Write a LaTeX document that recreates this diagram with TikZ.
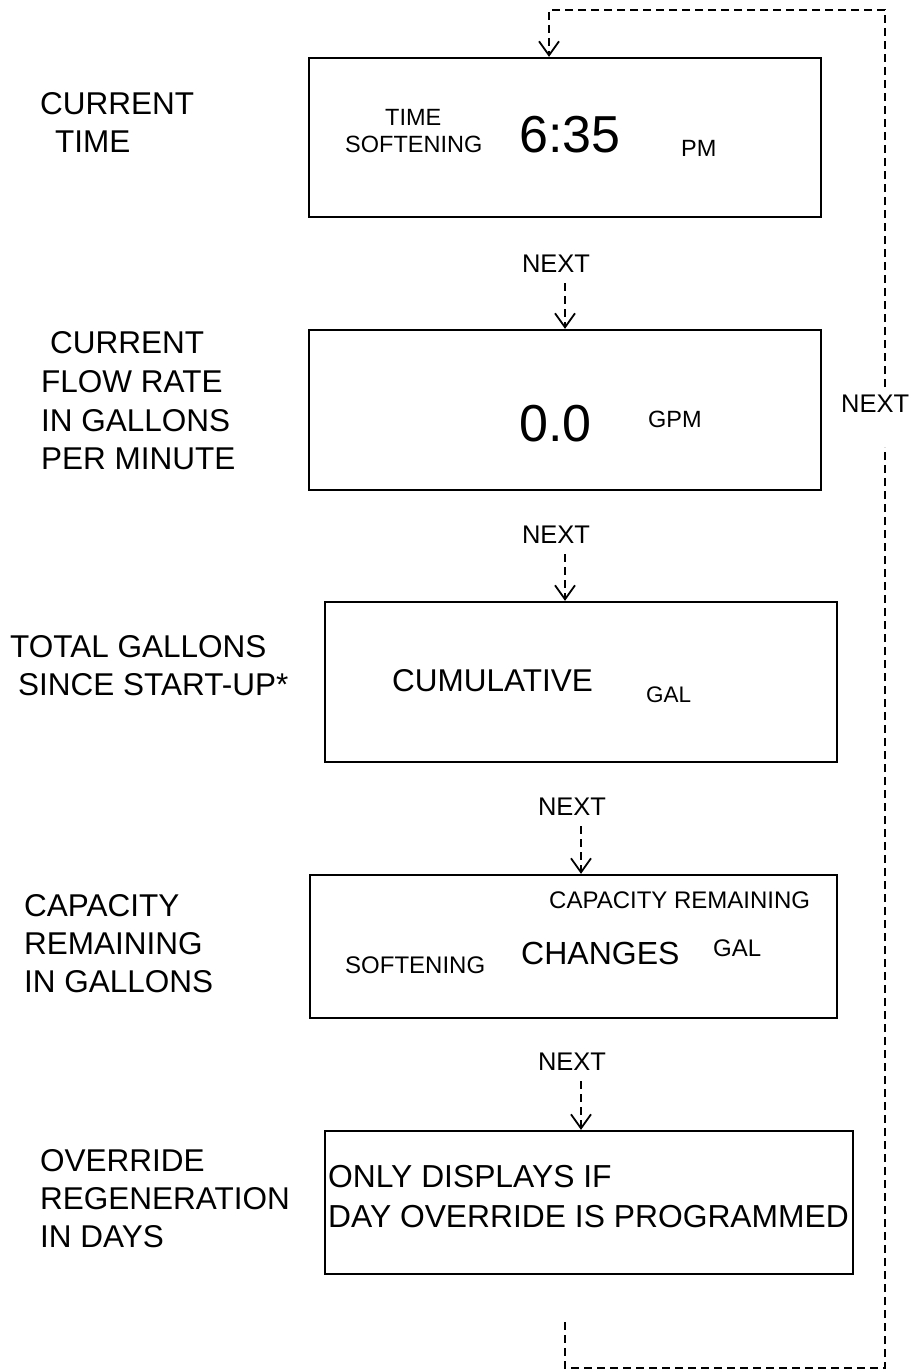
\documentclass[tikz,border=0pt]{standalone}
\usepackage{fontspec}
\setmainfont{Liberation Sans}
\usetikzlibrary{arrows.meta,calc}
\tikzset{
  box/.style={draw, line width=2.3pt, inner sep=0pt},
  lbl/.style={anchor=base west, inner sep=0pt, font=\fontsize{31.5}{37}\selectfont},
  sm/.style={anchor=base west, inner sep=0pt, font=\fontsize{23.5}{28}\selectfont},
  big/.style={anchor=base west, inner sep=0pt, font=\fontsize{52}{60}\selectfont},
  nxt/.style={anchor=base, inner sep=0pt, font=\fontsize{25.5}{30}\selectfont},
  dl/.style={line width=2.2pt, dash pattern=on 8pt off 5pt},
  tipv/.style={-{Straight Barb[length=14pt,width=20pt,line width=1.8pt]}},
}
\begin{document}
\begin{tikzpicture}[x=1pt,y=-1pt]
\useasboundingbox (0,0) rectangle (911,1370);
% boxes
\node[box, minimum width=512pt, minimum height=159pt] (b1) at (565,137.5) {};
\node[box, minimum width=512pt, minimum height=160pt] (b2) at (565,410) {};
\node[box, minimum width=512pt, minimum height=160pt] (b3) at (581,682) {};
\node[box, minimum width=527pt, minimum height=143pt] (b4) at (573.5,946.5) {};
\node[box, minimum width=528pt, minimum height=143pt] (b5) at (589,1202.5) {};
% left labels
\node[lbl] (l1a) at (40,115) {CURRENT};
\node[lbl] (l1b) at (55,153) {TIME};
\node[lbl] (l2a) at (50,353) {CURRENT};
\node[lbl] (l2b) at (41,392) {FLOW RATE};
\node[lbl] (l2c) at (41,431) {IN GALLONS};
\node[lbl] (l2d) at (41,469) {PER MINUTE};
\node[lbl] (l3a) at (10,657) {TOTAL GALLONS};
\node[lbl] (l3b) at (18,695) {SINCE START-UP*};
\node[lbl] (l4a) at (24,916) {CAPACITY};
\node[lbl] (l4b) at (24,954) {REMAINING};
\node[lbl] (l4c) at (24,992) {IN GALLONS};
\node[lbl] (l5a) at (40,1171) {OVERRIDE};
\node[lbl] (l5b) at (40,1209) {REGENERATION};
\node[lbl] (l5c) at (40,1247) {IN DAYS};
% box 1 contents
\node[sm] (t1a) at (385,125) {TIME};
\node[sm] (t1b) at (345,153) {SOFTENING};
\node[big] (t1c) at (519,153) {6:35};
\node[sm] (t1d) at (681,157) {PM};
% box 2 contents
\node[big] (t2a) at (519,441) {0.0};
\node[sm] (t2b) at (648,427) {GPM};
% box 3 contents
\node[lbl] (t3a) at (392,691) {CUMULATIVE};
\node[sm, font=\fontsize{22.5}{26}\selectfont] (t3b) at (646,702) {GAL};
% box 4 contents
\node[sm, font=\fontsize{24}{28}\selectfont] (t4a) at (549,908) {CAPACITY REMAINING};
\node[lbl, font=\fontsize{32}{38}\selectfont] (t4b) at (521,964) {CHANGES};
\node[sm, font=\fontsize{24}{28}\selectfont] (t4c) at (713,956) {GAL};
\node[sm, font=\fontsize{24}{28}\selectfont] (t4d) at (345,973) {SOFTENING};
% box 5 contents
\node[lbl, font=\fontsize{31.8}{38}\selectfont] (t5a) at (328,1187) {ONLY DISPLAYS IF};
\node[lbl, font=\fontsize{31.8}{38}\selectfont] (t5b) at (328,1227) {DAY OVERRIDE IS PROGRAMMED};
% NEXT labels
\node[nxt] (n1) at (556,272) {NEXT};
\node[nxt] (n2) at (556,543) {NEXT};
\node[nxt] (n3) at (572,815) {NEXT};
\node[nxt] (n4) at (572,1070) {NEXT};
\node[lbl, font=\fontsize{25.5}{30}\selectfont] (nr) at (841,412) {NEXT};
% arrows between boxes
\draw[dl, tipv] ([xshift=9pt,yshift=-11pt]n1.south) -- ([xshift=9pt]n1.south |- b2.north);
\draw[dl, tipv] ([xshift=9pt,yshift=-11pt]n2.south) -- ([xshift=9pt]n2.south |- b3.north);
\draw[dl, tipv] ([xshift=9pt,yshift=-11pt]n3.south) -- ([xshift=9pt]n3.south |- b4.north);
\draw[dl, tipv] ([xshift=9pt,yshift=-11pt]n4.south) -- ([xshift=9pt]n4.south |- b5.north);
% return loop
\coordinate (lstart) at (565,1322);
\coordinate (lcorner) at (885,1368);
\coordinate (gaplo) at (885,447);
\coordinate (gaphi) at (885,387);
\coordinate (ltop) at (885,10);
\draw[dl] (lstart) |- (lcorner) -- (gaplo);
\draw[dl, tipv] (gaphi) -- (ltop) -| ([xshift=-16pt]b1.north);
\end{tikzpicture}
\end{document}
